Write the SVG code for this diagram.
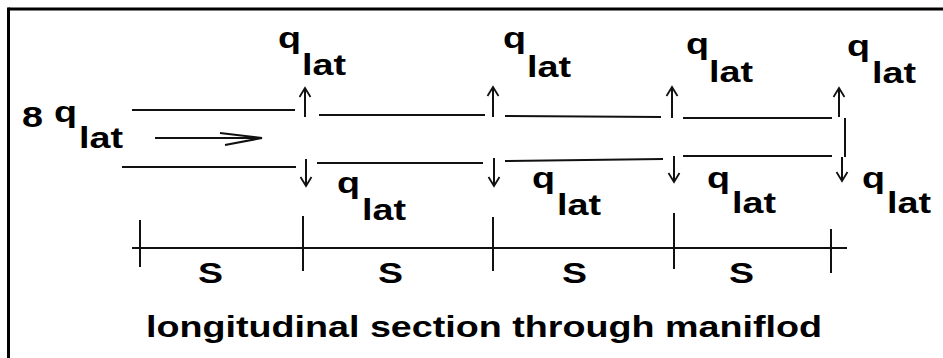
<svg xmlns="http://www.w3.org/2000/svg" width="943" height="358" viewBox="0 0 943 358">
<defs>
<style>
.ln{stroke:#111;stroke-width:2;fill:none;stroke-linecap:butt}
.fr{stroke:#000;stroke-width:3;fill:none}
.t{font-family:"Liberation Sans",Arial,sans-serif;font-weight:bold;font-size:30px;fill:#000}
</style>
<marker id="ah" markerUnits="userSpaceOnUse" markerWidth="16" markerHeight="16" viewBox="-10 -8 12 16" refX="0" refY="0" orient="auto">
<path d="M-9,-5.5 L0,0 L-9,5.5" stroke="#111" stroke-width="1.8" fill="none"/>
</marker>
</defs>
<rect width="943" height="358" fill="#fff"/>
<g id="frame">
<line class="fr" x1="8.5" y1="9" x2="943" y2="9"/>
<line class="fr" x1="8.5" y1="7.5" x2="8.5" y2="358"/>
</g>
<g id="pipe">
<line class="ln" x1="132" y1="110" x2="295" y2="110"/>
<line class="ln" x1="319" y1="115" x2="485" y2="115"/>
<line class="ln" x1="505" y1="116" x2="661" y2="117"/>
<line class="ln" x1="683" y1="118" x2="832" y2="118"/>
<line class="ln" x1="122" y1="167" x2="296" y2="167"/>
<line class="ln" x1="317" y1="163" x2="483" y2="163"/>
<line class="ln" x1="505" y1="161" x2="663" y2="159"/>
<line class="ln" x1="683" y1="156" x2="832" y2="156"/>
<line class="ln" x1="845" y1="118" x2="845" y2="157"/>
</g>
<g id="connectors">
<line class="ln" x1="155" y1="138" x2="262" y2="138"/>
<path d="M220,133 L262,138 L225,145" stroke="#111" stroke-width="2" fill="none"/>
<line class="ln" x1="305" y1="117" x2="305" y2="88" marker-end="url(#ah)"/>
<line class="ln" x1="493" y1="117" x2="493" y2="87" marker-end="url(#ah)"/>
<line class="ln" x1="672" y1="118" x2="672" y2="87" marker-end="url(#ah)"/>
<line class="ln" x1="839" y1="117" x2="839" y2="88" marker-end="url(#ah)"/>
<line class="ln" x1="306" y1="159" x2="306" y2="186" marker-end="url(#ah)"/>
<line class="ln" x1="494" y1="158" x2="494" y2="186" marker-end="url(#ah)"/>
<line class="ln" x1="674" y1="156" x2="674" y2="182" marker-end="url(#ah)"/>
<line class="ln" x1="842" y1="157" x2="842" y2="181" marker-end="url(#ah)"/>
</g>
<g id="scale">
<line class="ln" x1="132" y1="248" x2="847" y2="248"/>
<line class="ln" x1="140" y1="220" x2="140" y2="267"/>
<line class="ln" x1="303" y1="216" x2="303" y2="271"/>
<line class="ln" x1="493" y1="217" x2="493" y2="271"/>
<line class="ln" x1="674" y1="213" x2="674" y2="269"/>
<line class="ln" x1="831" y1="229" x2="831" y2="273"/>
<text class="t" x="198" y="283" textLength="25" lengthAdjust="spacingAndGlyphs">S</text>
<text class="t" x="378" y="283" textLength="25" lengthAdjust="spacingAndGlyphs">S</text>
<text class="t" x="562" y="283" textLength="25" lengthAdjust="spacingAndGlyphs">S</text>
<text class="t" x="729" y="283" textLength="25" lengthAdjust="spacingAndGlyphs">S</text>
</g>
<g id="inlet-label">
<text class="t" x="22" y="127" textLength="21" lengthAdjust="spacingAndGlyphs">8</text>
<text class="t" x="54" y="122" textLength="23" lengthAdjust="spacingAndGlyphs">q</text>
<text class="t" x="79" y="148" textLength="44" lengthAdjust="spacingAndGlyphs">lat</text>
</g>
<g id="top-labels">
<text class="t" x="278" y="48" textLength="23" lengthAdjust="spacingAndGlyphs">q</text>
<text class="t" x="302" y="75" textLength="44" lengthAdjust="spacingAndGlyphs">lat</text>
<text class="t" x="503" y="48" textLength="23" lengthAdjust="spacingAndGlyphs">q</text>
<text class="t" x="527" y="77" textLength="44" lengthAdjust="spacingAndGlyphs">lat</text>
<text class="t" x="686" y="54" textLength="23" lengthAdjust="spacingAndGlyphs">q</text>
<text class="t" x="709" y="82" textLength="44" lengthAdjust="spacingAndGlyphs">lat</text>
<text class="t" x="847" y="56" textLength="23" lengthAdjust="spacingAndGlyphs">q</text>
<text class="t" x="872" y="83" textLength="44" lengthAdjust="spacingAndGlyphs">lat</text>
</g>
<g id="bottom-labels">
<text class="t" x="337" y="193" textLength="23" lengthAdjust="spacingAndGlyphs">q</text>
<text class="t" x="362" y="220" textLength="44" lengthAdjust="spacingAndGlyphs">lat</text>
<text class="t" x="532" y="188" textLength="23" lengthAdjust="spacingAndGlyphs">q</text>
<text class="t" x="557" y="215" textLength="44" lengthAdjust="spacingAndGlyphs">lat</text>
<text class="t" x="707" y="188" textLength="23" lengthAdjust="spacingAndGlyphs">q</text>
<text class="t" x="732" y="213" textLength="44" lengthAdjust="spacingAndGlyphs">lat</text>
<text class="t" x="862" y="188" textLength="23" lengthAdjust="spacingAndGlyphs">q</text>
<text class="t" x="887" y="213" textLength="44" lengthAdjust="spacingAndGlyphs">lat</text>
</g>
<g id="caption">
<text class="t" x="146" y="337" textLength="676" lengthAdjust="spacingAndGlyphs">longitudinal section through maniflod</text>
</g>
</svg>
